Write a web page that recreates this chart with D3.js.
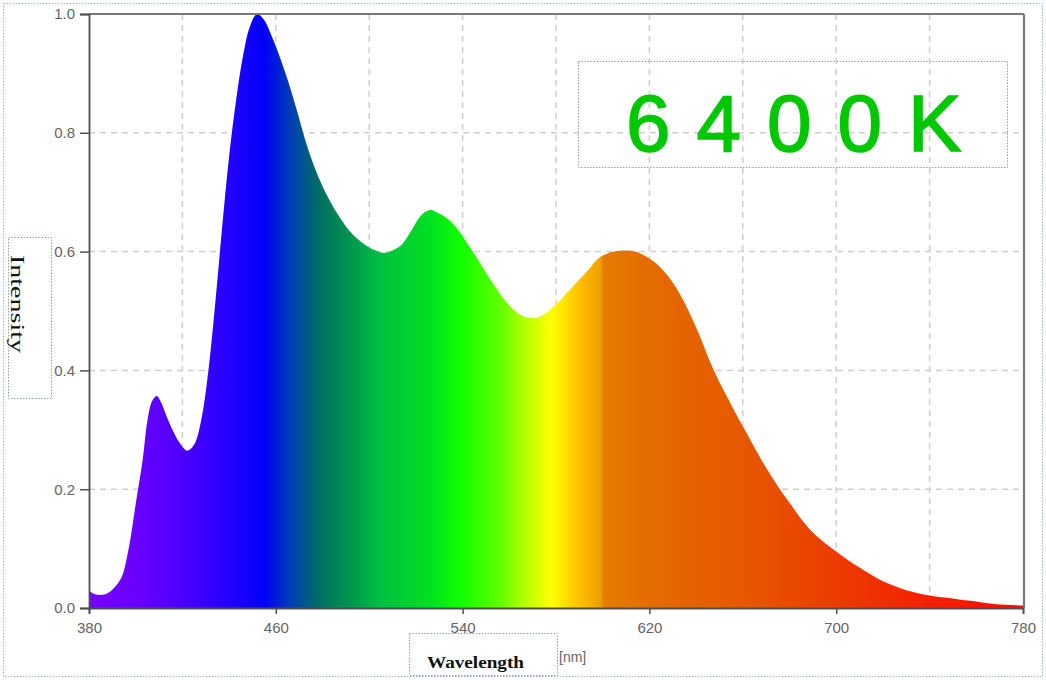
<!DOCTYPE html>
<html>
<head>
<meta charset="utf-8">
<script src="https://cdn.jsdelivr.net/npm/d3@7"></script>
<style>
  html, body { margin: 0; padding: 0; background: #ffffff; }
  svg { display: block; }
</style>
</head>
<body>
<svg id="chart" width="1046" height="680"></svg>
<script>
// ---- data ----
const wavelengths = [380,382,385,388,391,394,397,400,403,405,407,409,411,413,416,419,422,425,428,431,434,437,440,443,446,449,452,455,458,461,465,469,473,477,482,487,492,497,502,506,510,514,518,522,526,530,534,538,542,546,550,554,558,562,566,570,574,578,582,586,590,594,598,602,606,610,614,618,622,626,630,634,638,642,646,650,654,658,662,666,670,675,680,685,690,695,700,705,710,715,720,725,730,735,740,745,750,755,760,765,770,775,780];
const intensity = [0.030,0.024,0.022,0.025,0.035,0.052,0.100,0.175,0.250,0.315,0.348,0.357,0.345,0.325,0.298,0.277,0.265,0.275,0.315,0.395,0.510,0.640,0.760,0.855,0.930,0.980,1.000,0.990,0.965,0.935,0.890,0.838,0.783,0.738,0.694,0.660,0.633,0.615,0.603,0.598,0.602,0.612,0.635,0.660,0.670,0.664,0.654,0.637,0.614,0.590,0.565,0.541,0.519,0.502,0.491,0.488,0.492,0.504,0.519,0.536,0.553,0.570,0.588,0.597,0.601,0.602,0.600,0.593,0.583,0.568,0.548,0.522,0.490,0.454,0.414,0.380,0.350,0.320,0.292,0.263,0.236,0.205,0.177,0.150,0.127,0.110,0.095,0.081,0.068,0.056,0.045,0.037,0.030,0.025,0.021,0.018,0.016,0.013,0.011,0.008,0.006,0.005,0.004];
const xTicks = [380,460,540,620,700,780];
const xGrid = [420,460,500,540,580,620,660,700,740];
const yTicks = [0.0,0.2,0.4,0.6,0.8,1.0];
const yGrid = [0.2,0.4,0.6,0.8];
const xLabel = "Wavelength";
const xUnit = "[nm]";
const yLabel = "Intensity";
const legendText = "6400K";

// spectrum colour stops (wavelength -> colour)
const stopNm = [380,400,420,440,455,467,479,490,505,526,539,556,566,578,590,599,600.5,620,660,700,740,780];
const stopColor = ["#7800ff","#6a00ff","#4c00ff","#2400ff","#0000f8","#0040b0","#007060","#009050","#00c040","#00e020","#10ff00","#60ff00","#b0ff00","#ffff00","#ffc000","#eca000","#e47c00","#e46c00","#e65800","#ec3c00","#f42000","#ff0a00"];

// ---- layout ----
const svg = d3.select("#chart");
const x = d3.scaleLinear().domain([380, 780]).range([89, 1023]);
const y = d3.scaleLinear().domain([0, 1]).range([608, 14]);

// outer dotted border
svg.append("rect").attr("x", 3.5).attr("y", 3.5).attr("width", 1039).attr("height", 673)
  .attr("fill", "none").attr("stroke", "#9fb3cf").attr("stroke-width", 1).attr("stroke-dasharray", "1.5,1.5");

// gradient
const defs = svg.append("defs");
const grad = defs.append("linearGradient").attr("id", "spec")
  .attr("gradientUnits", "userSpaceOnUse")
  .attr("x1", x(380)).attr("x2", x(780)).attr("y1", 0).attr("y2", 0);
stopNm.forEach((nm, i) => {
  grad.append("stop").attr("offset", (nm - 380) / 400).attr("stop-color", stopColor[i]);
});

// grid
const gridG = svg.append("g");
gridG.selectAll("line.vg").data(xGrid).join("line")
  .attr("x1", d => x(d)).attr("x2", d => x(d)).attr("y1", y(1)).attr("y2", y(0))
  .attr("stroke", "#cfcfcf").attr("stroke-width", 1.5).attr("stroke-dasharray", "6,5");
gridG.selectAll("line.hg").data(yGrid).join("line")
  .attr("x1", x(380)).attr("x2", x(780)).attr("y1", d => y(d)).attr("y2", d => y(d))
  .attr("stroke", "#cfcfcf").attr("stroke-width", 1.5).attr("stroke-dasharray", "6,5");

// area
const pts = wavelengths.map((w, i) => [w, intensity[i]]);
const area = d3.area().x(d => x(d[0])).y0(y(0)).y1(d => y(d[1])).curve(d3.curveCatmullRom.alpha(0.5));
svg.append("path").datum(pts).attr("d", area).attr("fill", "url(#spec)");

// frame top/right
svg.append("line").attr("x1", x(380)).attr("x2", x(780) + 1).attr("y1", y(1)).attr("y2", y(1))
  .attr("stroke", "#7a7a7a").attr("stroke-width", 2.2);
svg.append("line").attr("x1", x(780) + 1).attr("x2", x(780) + 1).attr("y1", y(1)).attr("y2", y(0))
  .attr("stroke", "#7a7a7a").attr("stroke-width", 2.2);

// axes
const yAxis = svg.append("g").attr("transform", `translate(${x(380)},0)`)
  .call(d3.axisLeft(y).tickValues(yTicks).tickFormat(d3.format(".1f")).tickSize(9).tickPadding(5));
const xAxis = svg.append("g").attr("transform", `translate(0,${y(0)})`)
  .call(d3.axisBottom(x).tickValues(xTicks).tickFormat(d3.format("d")).tickSize(6).tickPadding(8));
[yAxis, xAxis].forEach(g => {
  g.select(".domain").attr("stroke", "#505050").attr("stroke-width", 1.8);
  g.selectAll(".tick line").attr("stroke", "#505050").attr("stroke-width", 1.5);
  g.selectAll(".tick text").attr("fill", "#646464")
    .style("font-family", "'Liberation Sans', Arial, sans-serif").style("font-size", "15px");
});

// y label box + text
svg.append("rect").attr("x", 8.5).attr("y", 237.5).attr("width", 43).attr("height", 161)
  .attr("fill", "none").attr("stroke", "#8aa0c0").attr("stroke-width", 1).attr("stroke-dasharray", "1.5,1.5");
svg.append("text").attr("transform", "translate(11,255) rotate(90)")
  .attr("x", 0).attr("y", 0)
  .attr("textLength", 98).attr("lengthAdjust", "spacingAndGlyphs")
  .style("font-family", "'Liberation Serif', 'DejaVu Serif', serif").style("font-size", "18px").attr("fill", "#111")
  .text(yLabel);

// x label box + text
svg.append("rect").attr("x", 409.5).attr("y", 633.5).attr("width", 148).attr("height", 42)
  .attr("fill", "none").attr("stroke", "#8aa0c0").attr("stroke-width", 1).attr("stroke-dasharray", "1.5,1.5");
svg.append("text").attr("x", 427).attr("y", 668)
  .attr("textLength", 97).attr("lengthAdjust", "spacingAndGlyphs")
  .style("font-family", "'Liberation Serif', 'DejaVu Serif', serif").style("font-size", "17px").style("font-weight", "bold").attr("fill", "#111")
  .text(xLabel);
svg.append("text").attr("x", 559).attr("y", 662)
  .style("font-family", "'Liberation Sans', Arial, sans-serif").style("font-size", "14px").attr("fill", "#666")
  .text(xUnit);

// legend box
svg.append("rect").attr("x", 578.5).attr("y", 61.5).attr("width", 429).attr("height", 106)
  .attr("fill", "none").attr("stroke", "#8aa0c0").attr("stroke-width", 1).attr("stroke-dasharray", "1.5,1.5");
svg.append("text").attr("x", 626).attr("y", 151)
  .style("font-family", "'Liberation Sans', Arial, sans-serif").style("font-size", "80px").style("letter-spacing", "26px")
  .attr("fill", "#00c800").attr("stroke", "#00c800").attr("stroke-width", 1.6)
  .text(legendText);
</script>
</body>
</html>
